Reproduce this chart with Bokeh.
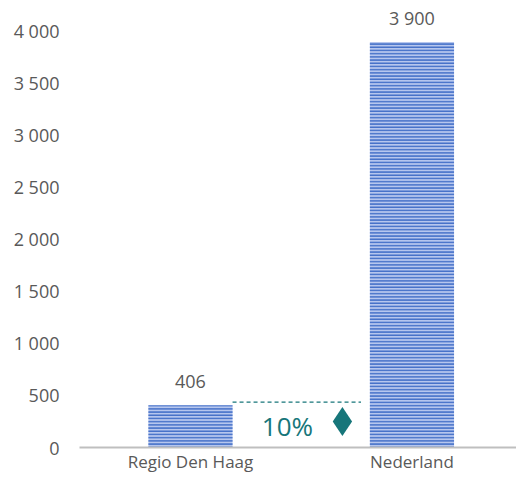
from bokeh.plotting import figure
from bokeh.models import Range1d, FixedTicker, ColumnDataSource
from bokeh.core.properties import value
from bokeh.embed import file_html
from bokeh.resources import INLINE

categories = ["Regio Den Haag", "Nederland"]
values = [406, 3900]
value_labels = ["406", "3 900"]
y_ticks = [0, 500, 1000, 1500, 2000, 2500, 3000, 3500, 4000]
y_tick_labels = ["0", "500", "1 000", "1 500", "2 000", "2 500", "3 000", "3 500", "4 000"]
share_label = "10%"

FONT = "Open Sans"
GRAY = "#595959"
TEAL = "#17767a"

xpos = list(range(len(categories)))
src = ColumnDataSource(dict(x=xpos, top=values, lab=value_labels))

p = figure(frame_width=437, frame_height=447, output_backend="svg", toolbar_location=None,
           x_range=Range1d(-0.501, 1.472), y_range=Range1d(0, 4298),
           min_border_left=79, min_border_right=0, min_border_top=0, min_border_bottom=0)
p.outline_line_color = None
p.grid.grid_line_color = None
p.background_fill_color = "white"

p.vbar(x="x", top="top", width=0.38, source=src, fill_color="#b6c6ee", line_color=None,
       hatch_pattern="horizontal_line", hatch_color="#4470c8", hatch_scale=3.2, hatch_weight=1.7)

p.text(x="x", y="top", text="lab", source=src, text_align="center", text_baseline="alphabetic",
       y_offset=-24, text_font=value(FONT), text_font_size="18px", text_color=GRAY)

# comparison annotation between bars
gap_left = xpos[0] + 0.19
gap_right = xpos[1] - 0.19
gap = gap_right - gap_left
p.segment(x0=[gap_left], y0=[values[0] + 30], x1=[gap_right - 0.04], y1=[values[0] + 30],
          line_color=TEAL, line_width=1.2, line_dash="4 3")
p.text(x=[gap_left + 0.40 * gap], y=[values[0] / 2 + 8], text=[share_label],
       text_align="center", text_baseline="middle", text_font=value(FONT),
       text_font_size="26px", text_color=TEAL)
p.scatter(x=[gap_left + 0.80 * gap], y=[values[0] / 2 + 47], marker="diamond",
          size=29, fill_color=TEAL, line_color=None)

p.xaxis.ticker = FixedTicker(ticks=xpos)
p.xaxis.major_label_overrides = {i: c for i, c in zip(xpos, categories)}
p.xaxis.axis_line_color = "#bfbfbf"
p.xaxis.axis_line_width = 2
p.xaxis.major_tick_line_color = None
p.xaxis.minor_tick_line_color = None
p.xaxis.major_tick_out = 0
p.xaxis.major_label_standoff = 2
p.xaxis.major_label_text_font = FONT
p.xaxis.major_label_text_font_size = "17px"
p.xaxis.major_label_text_color = GRAY

p.yaxis.ticker = FixedTicker(ticks=y_ticks)
p.yaxis.major_label_overrides = {t: l for t, l in zip(y_ticks, y_tick_labels)}
p.yaxis.axis_line_color = None
p.yaxis.major_tick_line_color = None
p.yaxis.minor_tick_line_color = None
p.yaxis.major_tick_out = 0
p.yaxis.major_label_standoff = 20
p.yaxis.major_label_text_font = FONT
p.yaxis.major_label_text_font_size = "18px"
p.yaxis.major_label_text_color = GRAY

open("out.html", "w").write(file_html(p, INLINE))
